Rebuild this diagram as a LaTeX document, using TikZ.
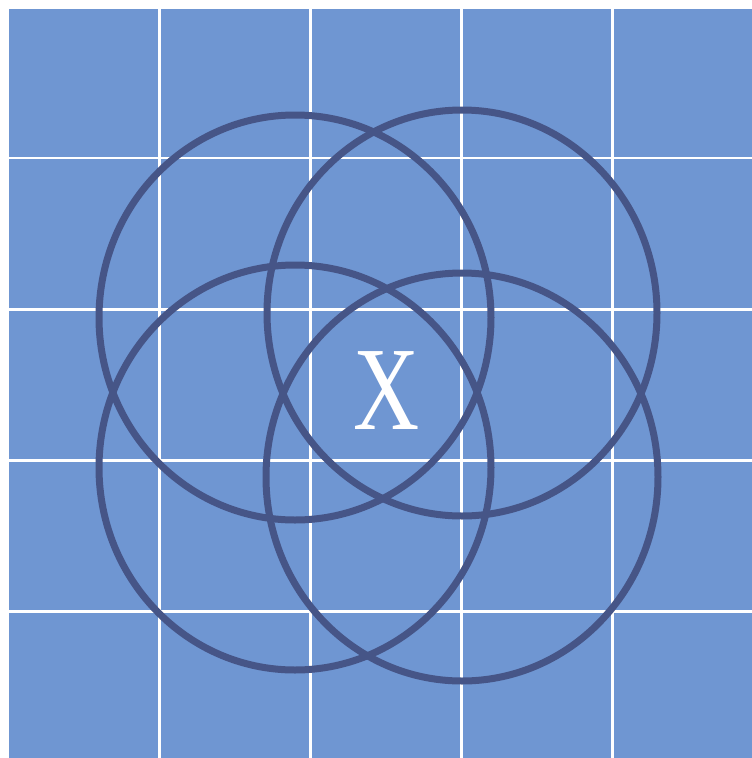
\documentclass[tikz,border=0pt]{standalone}
\usepackage{fontspec}
\setmainfont{Liberation Serif}
\definecolor{bgblue}{RGB}{111,150,210}
\definecolor{ringblue}{RGB}{70,85,135}
\tikzset{
  gridline/.style={draw=white, line width=2.6pt},
  ring/.style={draw=ringblue, line width=7pt},
}
\begin{document}
\begin{tikzpicture}[x=1pt,y=-1pt]
\useasboundingbox (0,0) rectangle (752,758);
\fill[white] (0,0) rectangle (752,758);
\fill[bgblue] (9,9) rectangle (752,758);
\foreach \g in {159.5,310.5,461.5,612.5}{
  \path[gridline] (\g,9) -- (\g,758);
}
\foreach \g in {158,309.5,460.5,611.5}{
  \path[gridline] (9,\g) -- (752,\g);
}
\path[ring] (295,317.5) ellipse [x radius=196, y radius=202.5];
\path[ring] (462,313) ellipse [x radius=195, y radius=203];
\path[ring] (295,467.5) ellipse [x radius=196, y radius=202.5];
\path[ring] (462,477) ellipse [x radius=196, y radius=204];
\node[text=white, inner sep=0pt, xscale=0.77, font=\fontsize{119}{119}\selectfont] (x) at (386.5,391) {X};
\end{tikzpicture}
\end{document}
